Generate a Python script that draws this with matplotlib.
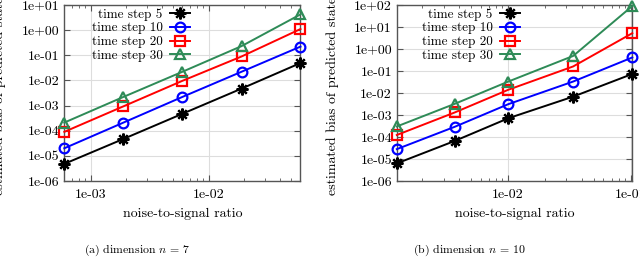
import matplotlib
matplotlib.use("Agg")
import matplotlib.pyplot as plt
from matplotlib.ticker import FixedLocator, FuncFormatter, LogLocator, NullFormatter

plt.rcParams['font.family'] = ['cmr10', 'DejaVu Serif']
plt.rcParams['mathtext.fontset'] = 'cm'
plt.rcParams['axes.formatter.use_mathtext'] = True

# dimension n = 7
x_n7 = [6e-4, 1.9e-3, 6e-3, 1.9e-2, 6e-2]
ts5_n7 = [4.8e-6, 4.7e-5, 4.7e-4, 4.7e-3, 4.9e-2]
ts10_n7 = [2.0e-5, 2.1e-4, 2.2e-3, 2.2e-2, 2.2e-1]
ts20_n7 = [9.0e-5, 9.3e-4, 9.6e-3, 8.9e-2, 1.1]
ts30_n7 = [2.1e-4, 2.2e-3, 2.2e-2, 2.3e-1, 4.2]

# dimension n = 10
x_n10 = [1.25e-3, 3.7e-3, 1.01e-2, 3.4e-2, 1.03e-1]
ts5_n10 = [6.3e-6, 6.6e-5, 7.1e-4, 6.8e-3, 7.3e-2]
ts10_n10 = [2.8e-5, 2.9e-4, 3.1e-3, 3.3e-2, 0.41]
ts20_n10 = [1.23e-4, 1.3e-3, 1.4e-2, 0.16, 5.2]
ts30_n10 = [3.0e-4, 3.2e-3, 3.3e-2, 0.48, 89.0]

labels = ['time step 5', 'time step 10', 'time step 20', 'time step 30']
colors = ['black', '#0000ff', '#ff0000', '#2e8b57']
markers = [(8, 2, 0), 'o', 's', '^']


def fmt(v, pos):
    return '%.0e' % v


def draw(ax, x, series, xlim, ylim, xticks, yticks, legend_x):
    for y, lab, c, m in zip(series, labels, colors, markers):
        ms = 8.5 if m == (8, 2, 0) else 7
        ax.plot(x, y, color=c, marker=m, markersize=ms, markerfacecolor='none',
                markeredgecolor=c, markeredgewidth=1.6, linewidth=1.4,
                label=lab, clip_on=False, zorder=3)
    ax.set_xscale('log')
    ax.set_yscale('log')
    ax.set_xlim(*xlim)
    ax.set_ylim(*ylim)
    ax.xaxis.set_major_locator(FixedLocator(xticks))
    ax.yaxis.set_major_locator(FixedLocator(yticks))
    ax.xaxis.set_major_formatter(FuncFormatter(fmt))
    ax.yaxis.set_major_formatter(FuncFormatter(fmt))
    ax.xaxis.set_minor_locator(LogLocator(base=10, subs=range(2, 10)))
    ax.yaxis.set_minor_locator(LogLocator(base=10, subs=range(2, 10)))
    ax.xaxis.set_minor_formatter(NullFormatter())
    ax.yaxis.set_minor_formatter(NullFormatter())
    ax.tick_params(which='both', direction='in', top=True, right=True,
                   color='#555555', labelsize=10)
    ax.tick_params(which='major', length=4)
    ax.tick_params(which='minor', length=2)
    ax.tick_params(axis='x', pad=6)
    for sp in ax.spines.values():
        sp.set_color('#555555')
        sp.set_linewidth(1.0)
    ax.grid(True, which='major', color='#dddddd', linewidth=0.8)
    ax.set_axisbelow(True)
    ax.set_xlabel('noise-to-signal ratio', fontsize=10, labelpad=5)
    ax.set_ylabel('estimated bias of predicted states', fontsize=10)
    ax.yaxis.set_label_coords(-0.245, 0.5)
    ax.legend(loc='upper right', bbox_to_anchor=(legend_x, 1.0), frameon=False,
              markerfirst=False, fontsize=9.5, labelspacing=0.12,
              handlelength=1.5, handletextpad=0.55, borderpad=0.25,
              borderaxespad=0.0)


fig = plt.figure(figsize=(6.4, 2.73), dpi=100)
ax1 = fig.add_axes([0.1005, 0.337, 0.369, 0.645])
ax2 = fig.add_axes([0.620, 0.337, 0.368, 0.645])

draw(ax1, x_n7, [ts5_n7, ts10_n7, ts20_n7, ts30_n7],
     (6e-4, 6e-2), (1e-6, 1e1), [1e-3, 1e-2],
     [10.0 ** k for k in range(-6, 2)], 0.545)
draw(ax2, x_n10, [ts5_n10, ts10_n10, ts20_n10, ts30_n10],
     (1.25e-3, 1.03e-1), (1e-6, 1e2), [1e-2, 1e-1],
     [10.0 ** k for k in range(-6, 3)], 0.535)

fig.text(137 / 640, 1 - 250 / 273, '(a) dimension $n\\,=\\,7$', ha='center',
         va='center', fontsize=8.5)
fig.text(469.5 / 640, 1 - 250 / 273, '(b) dimension $n\\,=\\,10$', ha='center',
         va='center', fontsize=8.5)

fig.savefig('out.png', dpi=100)
